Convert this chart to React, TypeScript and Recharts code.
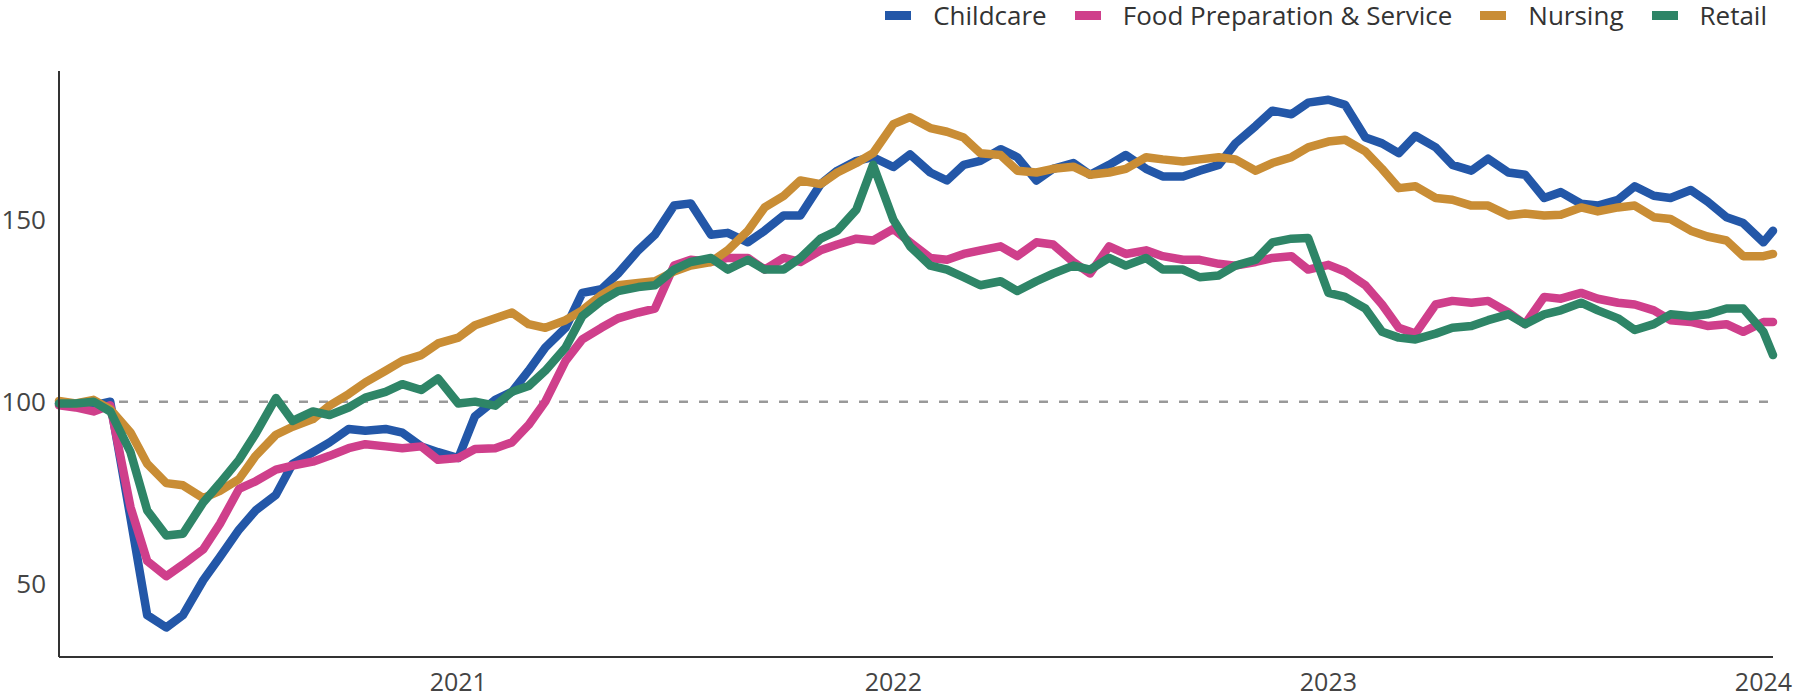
import { LineChart, Line, XAxis, YAxis, ReferenceLine } from 'recharts'

// semi-monthly observations, Feb 2020 to early Jan 2024
const DATES = [
  '2020-02-01', '2020-02-15', '2020-03-01', '2020-03-15', '2020-04-01', '2020-04-15',
  '2020-05-01', '2020-05-15', '2020-06-01', '2020-06-15', '2020-07-01', '2020-07-15',
  '2020-08-01', '2020-08-15', '2020-09-01', '2020-09-15', '2020-10-01', '2020-10-15',
  '2020-11-01', '2020-11-15', '2020-12-01', '2020-12-15',
  '2021-01-01', '2021-01-15', '2021-02-01', '2021-02-15', '2021-03-01', '2021-03-15',
  '2021-04-01', '2021-04-15', '2021-05-01', '2021-05-15', '2021-06-01', '2021-06-15',
  '2021-07-01', '2021-07-15', '2021-08-01', '2021-08-15', '2021-09-01', '2021-09-15',
  '2021-10-01', '2021-10-15', '2021-11-01', '2021-11-15', '2021-12-01', '2021-12-15',
  '2022-01-01', '2022-01-15', '2022-02-01', '2022-02-15', '2022-03-01', '2022-03-15',
  '2022-04-01', '2022-04-15', '2022-05-01', '2022-05-15', '2022-06-01', '2022-06-15',
  '2022-07-01', '2022-07-15', '2022-08-01', '2022-08-15', '2022-09-01', '2022-09-15',
  '2022-10-01', '2022-10-15', '2022-11-01', '2022-11-15', '2022-12-01', '2022-12-15',
  '2023-01-01', '2023-01-15', '2023-02-01', '2023-02-15', '2023-03-01', '2023-03-15',
  '2023-04-01', '2023-04-15', '2023-05-01', '2023-05-15', '2023-06-01', '2023-06-15',
  '2023-07-01', '2023-07-15', '2023-08-01', '2023-08-15', '2023-09-01', '2023-09-15',
  '2023-10-01', '2023-10-15', '2023-11-01', '2023-11-15', '2023-12-01', '2023-12-15',
  '2024-01-01', '2024-01-09',
]

const CHILDCARE = [
  99.5, 99.5, 99, 100, 68, 41.3, 37.9, 41.3, 50.9, 57.3, 64.8, 70.1,
  74.4, 82.9, 86.1, 88.8, 92.5, 92, 92.5, 91.5, 87.7, 86.1,
  84.5, 96, 100.5, 102.7, 108.5, 114.9, 120.3, 129.9, 130.9, 135.2, 141.6, 145.9,
  153.9, 154.5, 145.9, 146.4, 143.8, 147, 151.2, 151.2, 159.8, 163.5, 166.2, 167.2,
  164.5, 168, 163, 160.8, 165.1, 166.2, 169.4, 167.2, 160.8, 164, 165.6, 162.4,
  165.1, 167.8, 164, 161.9, 161.9, 163.5, 165.1, 171, 175.8, 180, 179, 182.2,
  183, 181.6, 172.6, 171, 168.3, 173.1, 169.9, 165.1, 163.5, 166.8, 163, 162.4,
  156, 157.6, 154.4, 153.9, 155.5, 159.2, 156.6, 156, 158.2, 155, 150.7, 149.1,
  143.8, 147,
]

const FOOD_PREP = [
  99, 98.4, 97.3, 99, 71, 56.2, 52, 55.2, 59.4, 66.4, 76, 78.1,
  81.3, 82.4, 83.5, 85.1, 87.2, 88.3, 87.7, 87.2, 87.7, 84,
  84.5, 87, 87.2, 88.8, 93.6, 100, 111.2, 117.1, 120.3, 122.9, 124.5, 125.6,
  137.4, 139, 138.4, 139.5, 139.5, 136.3, 139.5, 138.4, 141.6, 143.2, 144.8, 144.3,
  147.5, 143.8, 139.5, 139, 140.6, 141.6, 142.7, 140, 143.8, 143.2, 138.4, 135.2,
  142.7, 140.6, 141.6, 140, 139, 139, 137.9, 137.4, 138.4, 139.5, 140, 136.3,
  137.6, 135.8, 132, 126.7, 120.3, 118.7, 126.7, 127.7, 127.2, 127.7, 124.5, 121.3,
  128.8, 128.3, 129.9, 128.3, 127.2, 126.7, 125.1, 122.4, 121.9, 120.8, 121.3, 119.2,
  121.9, 121.9,
]

const NURSING = [
  100.2, 99.5, 100.5, 97.9, 91.5, 82.9, 77.6, 77, 73.5, 75.5, 78.7, 85.1,
  90.9, 93.1, 95.2, 98.9, 102.1, 105.3, 108.5, 111.2, 112.8, 116,
  117.6, 121, 122.9, 124.5, 121.3, 120.3, 122.4, 125.1, 129.3, 132, 132.6, 133.1,
  135.8, 137.4, 138.4, 141.6, 147, 153.4, 156.6, 160.8, 159.8, 163, 165.6, 168.3,
  176.3, 178.2, 175.2, 174.2, 172.6, 168.3, 167.8, 163.5, 163, 164, 164.6, 162.4,
  163, 164, 167.2, 166.6, 166, 166.6, 167.2, 166.6, 163.5, 165.6, 167.2, 169.9,
  171.5, 172, 168.8, 164, 158.7, 159.2, 156, 155.5, 153.9, 153.9, 151.2, 151.7,
  151.2, 151.4, 153.4, 152.3, 153.4, 153.9, 150.7, 150.2, 147, 145.4, 144.3, 140,
  140, 140.6,
]

const RETAIL = [
  99.5, 99.5, 100, 97.3, 86.1, 70.1, 63.2, 63.7, 72.3, 77.6, 84, 91.2,
  101, 94.7, 97.3, 96.3, 98.4, 101.1, 102.7, 104.8, 103.2, 106.4,
  99.5, 100, 98.9, 102.7, 104.3, 108.5, 114.9, 123.5, 127.7, 130.4, 131.5, 132,
  136.3, 138.4, 139.5, 136.3, 139, 136.3, 136.3, 139.5, 144.8, 147, 152.8, 165.1,
  150, 142.7, 137.4, 136.3, 134.2, 132, 133.1, 130.4, 133.1, 135.2, 137.4, 136.3,
  139.5, 137.4, 139.5, 136.3, 136.3, 134.2, 134.7, 137.4, 139, 143.8, 144.8, 145,
  129.9, 128.8, 125.6, 119.2, 117.6, 117.1, 118.7, 120.3, 120.8, 122.4, 124, 121.3,
  124, 125.1, 127.2, 125.1, 122.9, 119.7, 121.3, 124, 123.5, 124, 125.6, 125.6,
  119.2, 112.8,
]

const YEAR_TICKS = ['2021-01-01', '2022-01-01', '2023-01-01', '2024-01-01']
const Y_TICKS = [50, 100, 150]

const SERIES = [
  { key: 'childcare', name: 'Childcare', color: '#2357a8', values: CHILDCARE },
  { key: 'food', name: 'Food Preparation & Service', color: '#cf3f8b', values: FOOD_PREP },
  { key: 'nursing', name: 'Nursing', color: '#c98d35', values: NURSING },
  { key: 'retail', name: 'Retail', color: '#2e8567', values: RETAIL },
]

const ts = (d: string) => Date.parse(d + 'T00:00:00Z')

const rows = DATES.map((d, i) => {
  const row: Record<string, number> = { t: ts(d) }
  SERIES.forEach((s) => {
    row[s.key] = s.values[i]
  })
  return row
})

const FONT = '"Open Sans", "Noto Sans", sans-serif'

function Legend() {
  return (
    <div
      style={{
        position: 'absolute',
        top: 0,
        right: 27,
        height: 30,
        display: 'flex',
        alignItems: 'center',
        fontFamily: FONT,
        fontSize: 26,
        color: '#333',
        whiteSpace: 'nowrap',
      }}
    >
      {SERIES.map((s, i) => (
        <div
          key={s.key}
          style={{ display: 'flex', alignItems: 'center', marginLeft: i === 0 ? 0 : 28 }}
        >
          <span
            style={{ width: 26, height: 9, background: s.color, marginRight: 22, display: 'inline-block' }}
          />
          <span>{s.name}</span>
        </div>
      ))}
    </div>
  )
}

export default function App() {
  return (
    <div style={{ position: 'absolute', left: 0, top: 0, width: 1794, height: 699, background: '#fff' }}>
      <LineChart
        width={1794}
        height={699}
        data={rows}
        margin={{ top: 71, right: 21, bottom: 0, left: 0 }}
      >
        <XAxis
          dataKey="t"
          type="number"
          domain={[ts(DATES[0]), ts(DATES[DATES.length - 1])]}
          ticks={YEAR_TICKS.map(ts)}
          tickFormatter={(v: number) => String(new Date(v).getUTCFullYear())}
          height={42}
          tickLine={false}
          tickSize={0}
          tickMargin={16}
          axisLine={{ stroke: '#333', strokeWidth: 2 }}
          tick={{ fontSize: 25, fill: '#444', fontFamily: FONT }}
        />
        <YAxis
          type="number"
          domain={[29.8, 190.9]}
          ticks={Y_TICKS}
          width={59}
          tickLine={false}
          tickSize={0}
          tickMargin={13}
          axisLine={{ stroke: '#333', strokeWidth: 2 }}
          tick={{ fontSize: 26, fill: '#444', fontFamily: FONT }}
        />
        <ReferenceLine y={100} stroke="#999" strokeWidth={2.5} strokeDasharray="9 11" />
        {SERIES.map((s) => (
          <Line
            key={s.key}
            dataKey={s.key}
            name={s.name}
            type="linear"
            stroke={s.color}
            strokeWidth={8.5}
            strokeLinejoin="round"
            strokeLinecap="round"
            dot={false}
            isAnimationActive={false}
          />
        ))}
      </LineChart>
      <Legend />
    </div>
  )
}
